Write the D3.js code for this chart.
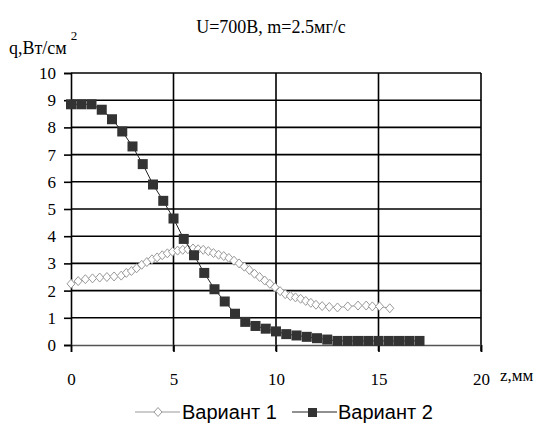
<!DOCTYPE html>
<html><head><meta charset="utf-8">
<script src="https://cdn.jsdelivr.net/npm/d3@7"></script>
<style>body{margin:0;background:#fff}svg{display:block}</style>
</head><body>
<script>
const xTicks = [0, 5, 10, 15, 20];
const yTicks = [0, 1, 2, 3, 4, 5, 6, 7, 8, 9, 10];
const seriesNames = ["Вариант 1", "Вариант 2"];

const v1x = [0,0.35,0.7,1.05,1.4,1.75,2.1,2.45,2.7,2.95,3.2,3.45,3.7,3.95,4.2,4.45,4.7,4.95,5.2,5.45,5.7,5.95,6.2,6.45,6.7,6.95,7.2,7.45,7.7,7.95,8.2,8.45,8.7,8.95,9.2,9.45,9.7,9.95,10.2,10.45,10.7,10.95,11.2,11.45,11.7,11.95,12.25,12.6,13.0,13.5,14.0,14.4,14.7,15.05,15.55];
const v1y = [2.25,2.35,2.42,2.45,2.48,2.5,2.52,2.55,2.65,2.72,2.82,2.95,3.05,3.15,3.22,3.3,3.37,3.43,3.47,3.5,3.52,3.55,3.52,3.5,3.45,3.38,3.32,3.27,3.2,3.1,3.0,2.88,2.76,2.62,2.5,2.37,2.25,2.12,1.98,1.87,1.8,1.75,1.7,1.62,1.55,1.48,1.43,1.4,1.38,1.42,1.45,1.45,1.42,1.42,1.35];

const v2x = [0,0.5,1,1.5,2,2.5,3,3.5,4,4.5,5,5.5,6,6.5,7,7.5,8,8.5,9,9.5,10,10.5,11,11.5,12,12.5,13,13.5,14,14.5,15,15.5,16,16.5,17];
const v2y = [8.85,8.85,8.85,8.65,8.3,7.85,7.3,6.65,5.9,5.3,4.65,3.9,3.3,2.65,2.05,1.6,1.15,0.85,0.7,0.6,0.5,0.4,0.35,0.3,0.25,0.2,0.15,0.15,0.15,0.15,0.15,0.15,0.15,0.15,0.15];

const W = 547, H = 430;
const svg = d3.select("body").append("svg").attr("width", W).attr("height", H);
svg.append("rect").attr("width", W).attr("height", H).attr("fill", "#fff");

const x = d3.scaleLinear().domain([0, 20]).range([71, 481]);
const y = d3.scaleLinear().domain([0, 10]).range([345, 73]);
const serif = "'Liberation Serif','DejaVu Serif',serif";
const sans = "'Liberation Sans',Arial,sans-serif";

// grid
svg.append("g").selectAll("line").data(yTicks.filter(d => d > 0)).join("line")
  .attr("x1", x(0)).attr("x2", x(20)).attr("y1", d => y(d)).attr("y2", d => y(d))
  .attr("stroke", "#000").attr("stroke-width", 1.6);
svg.append("g").selectAll("line").data(xTicks.filter(d => d > 0)).join("line")
  .attr("x1", d => x(d)).attr("x2", d => x(d)).attr("y1", y(10)).attr("y2", y(0) + 6)
  .attr("stroke", "#000").attr("stroke-width", 1.6);

// axes
const yAxis = svg.append("g").attr("transform", `translate(${x(0)},0)`)
  .call(d3.axisLeft(y).tickValues(yTicks).tickSize(7).tickPadding(8));
const xAxis = svg.append("g").attr("transform", `translate(0,${y(0)})`)
  .call(d3.axisBottom(x).tickValues(xTicks).tickSize(7).tickPadding(21));
[yAxis, xAxis].forEach(g => {
  g.select(".domain").attr("stroke", "#000").attr("stroke-width", 1.6);
  g.selectAll(".tick line").attr("stroke", "#000").attr("stroke-width", 1.6);
  g.selectAll("text").attr("font-family", serif).attr("font-size", 17).attr("fill", "#000");
});
xAxis.select(".domain").attr("stroke", "#555");
xAxis.selectAll(".tick text").attr("dy", "0.71em");

// series
const v1 = v1x.map((d, i) => [d, v1y[i]]);
const v2 = v2x.map((d, i) => [d, v2y[i]]);
const line = d3.line().x(d => x(d[0])).y(d => y(d[1]));
svg.append("path").datum(v1).attr("d", line).attr("fill", "none").attr("stroke", "#999").attr("stroke-width", 1);
const diamond = "M0,-4.5L4,0L0,4.5L-4,0Z";
svg.append("g").selectAll("path").data(v1).join("path")
  .attr("transform", d => `translate(${x(d[0])},${y(d[1])})`)
  .attr("d", diamond).attr("fill", "#fff").attr("stroke", "#999").attr("stroke-width", 1);

svg.append("path").datum(v2).attr("d", line).attr("fill", "none").attr("stroke", "#222").attr("stroke-width", 1);
svg.append("g").selectAll("rect").data(v2).join("rect")
  .attr("x", d => x(d[0]) - 5).attr("y", d => y(d[1]) - 5)
  .attr("width", 10).attr("height", 10).attr("fill", "#333");

// title and labels
svg.append("text").attr("x", 271).attr("y", 33).attr("text-anchor", "middle")
  .attr("font-family", serif).attr("font-size", 18).text("U=700В, m=2.5мг/с");
const yl = svg.append("text").attr("x", 9).attr("y", 54).attr("font-family", serif).attr("font-size", 18);
yl.append("tspan").text("q,Вт/см");
yl.append("tspan").attr("dx", 4).attr("dy", -14).attr("font-size", 13).text("2");
svg.append("text").attr("x", 500).attr("y", 381).attr("font-family", serif).attr("font-size", 17).text("z,мм");

// legend
const lg = svg.append("g");
lg.append("line").attr("x1", 135).attr("x2", 180).attr("y1", 412).attr("y2", 412).attr("stroke", "#999");
lg.append("path").attr("transform", "translate(158,412)").attr("d", diamond).attr("fill", "#fff").attr("stroke", "#999");
lg.append("text").attr("x", 182).attr("y", 419).attr("font-family", sans).attr("font-size", 20).text(seriesNames[0]);
lg.append("line").attr("x1", 292).attr("x2", 337).attr("y1", 412).attr("y2", 412).attr("stroke", "#222");
lg.append("rect").attr("x", 308).attr("y", 408).attr("width", 9).attr("height", 9).attr("fill", "#333");
lg.append("text").attr("x", 338).attr("y", 419).attr("font-family", sans).attr("font-size", 20).text(seriesNames[1]);
</script>
</body></html>
